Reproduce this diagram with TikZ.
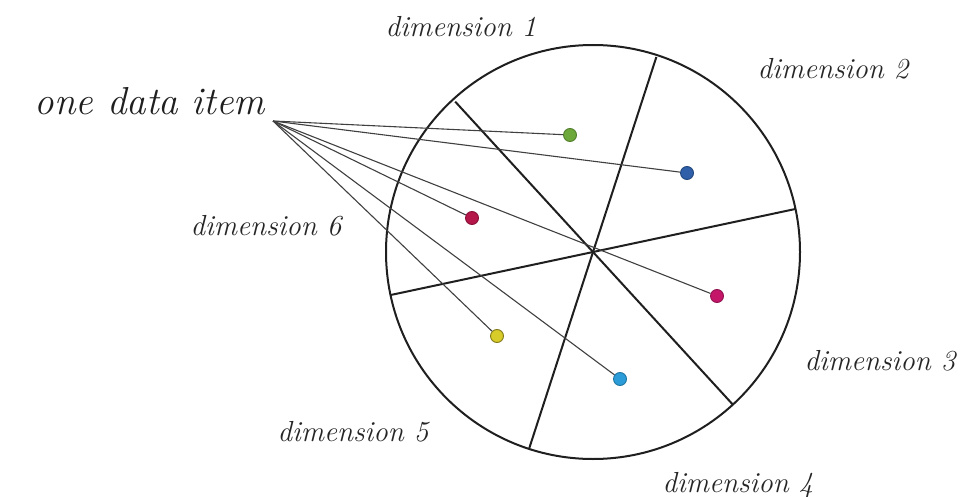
\documentclass[tikz,border=0pt]{standalone}
\usepackage{fontspec}
\usetikzlibrary{calc}
\definecolor{dgreen}{HTML}{6DA83A}
\definecolor{dblue}{HTML}{2E5FA8}
\definecolor{dcrimson}{HTML}{B5174A}
\definecolor{dmagenta}{HTML}{C4176A}
\definecolor{dyellow}{HTML}{D8CC2A}
\definecolor{dcyan}{HTML}{2B9CD8}
\begin{document}
\begin{tikzpicture}[x=1pt,y=-1pt,
  rim/.style={line width=2pt, draw=black!88},
  ray/.style={line width=1.1pt, draw=black!75},
  dot/.style={circle, minimum size=13pt, inner sep=0pt, line width=0.9pt},
  dimlabel/.style={font=\fontsize{29}{34}\selectfont\itshape, text=black!85, inner sep=0pt, anchor=base},
  itemlabel/.style={font=\fontsize{39}{44}\selectfont\itshape, text=black!88, inner sep=0pt, anchor=base}
]
\useasboundingbox (0,0) rectangle (971,497);
\coordinate (c) at (593,252);
\draw[rim] (c) circle[radius=207pt];
\draw[rim] ($(c)+(12:207pt)$) -- ($(c)+(192:207pt)$);
\draw[rim] ($(c)+(72:205pt)$) -- ($(c)+(252:207pt)$);
\draw[rim] ($(c)+(132.5:204pt)$) -- ($(c)+(-47.5:207pt)$);

\coordinate (src) at (273,121);
\node[dot, fill=dgreen, draw=dgreen!75!black] (g) at (570,135) {};
\node[dot, fill=dblue, draw=dblue!75!black] (b) at (687,173) {};
\node[dot, fill=dcrimson, draw=dcrimson!75!black] (r) at (472,218) {};
\node[dot, fill=dmagenta, draw=dmagenta!75!black] (m) at (717,296) {};
\node[dot, fill=dyellow, draw=dyellow!60!black] (y) at (497,336) {};
\node[dot, fill=dcyan, draw=dcyan!75!black] (cy) at (620,379) {};

\foreach \t in {g,b,r,m,y,cy} \draw[ray] (src) -- (\t);

\node[itemlabel] (item) at (150,115) {one data item};
\node[dimlabel] (d1) at (461,37) {dimension 1};
\node[dimlabel] (d2) at (833,79) {dimension 2};
\node[dimlabel] (d3) at (880,370) {dimension 3};
\node[dimlabel] (d4) at (738,492) {dimension 4};
\node[dimlabel] (d5) at (353,441) {dimension 5};
\node[dimlabel] (d6) at (266,235) {dimension 6};
\end{tikzpicture}
\end{document}
